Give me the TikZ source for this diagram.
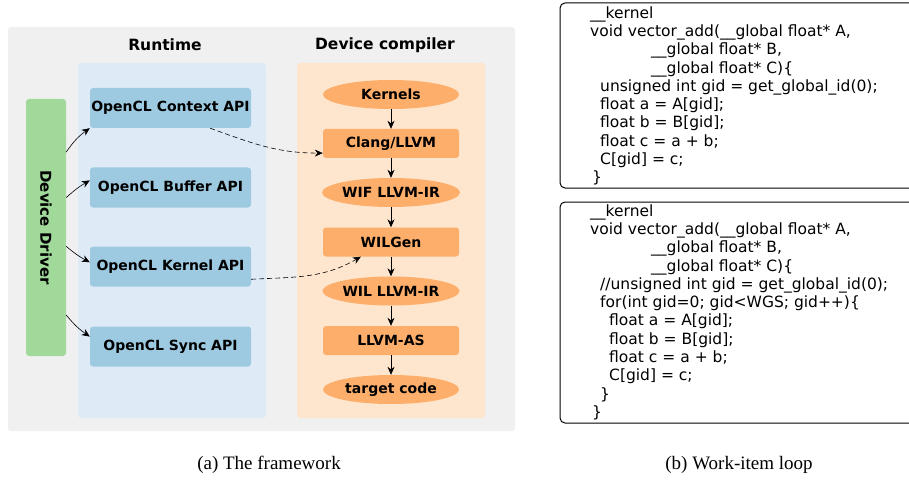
\documentclass[tikz,border=0pt]{standalone}
\usepackage{fontspec}
\setmainfont{Liberation Serif}
\newfontfamily\dejavu{DejaVu Sans}
\usetikzlibrary{arrows.meta,shapes.geometric}

\definecolor{framegray}{HTML}{F0F0F0}
\definecolor{rtpanel}{HTML}{DEEBF7}
\definecolor{dcpanel}{HTML}{FEE6CE}
\definecolor{apiblue}{HTML}{9ECAE1}
\definecolor{drvgreen}{HTML}{A1D99B}
\definecolor{stagecol}{HTML}{FDAE6B}

\newcommand\labelfont{\dejavu\bfseries\fontsize{14}{16}\selectfont}
\newcommand\codetxt{\dejavu\fontsize{15.5}{18.3}\selectfont}

\tikzset{
  panel/.style={fill=#1, rounded corners=3pt, inner sep=0pt},
  title/.style={font=\dejavu\bfseries\fontsize{15.5}{18}\selectfont},
  api/.style={fill=apiblue, rounded corners=3pt, minimum width=161pt, minimum height=40pt, inner sep=0pt, font=\labelfont},
  stage/.style={fill=stagecol, rounded corners=3pt, minimum width=136pt, minimum height=29pt, inner sep=0pt, font=\labelfont},
  ir/.style={ellipse, fill=stagecol, minimum width=136pt, minimum height=29pt, inner sep=0pt, font=\labelfont},
  flow/.style={->, line width=0.6pt},
  call/.style={->, line width=0.6pt, dash pattern=on 5pt off 3pt},
  codeframe/.style={draw, line width=1pt, rounded corners=5pt},
  code/.style={anchor=north west, align=left, inner sep=0pt, font=\codetxt},
  caption/.style={anchor=base, font=\fontsize{19}{22}\selectfont},
}

\begin{document}
\begin{tikzpicture}[x=1pt, y=-1pt, >={Stealth[length=8pt,width=7pt]}, line join=round]
\useasboundingbox (0,0) rectangle (909,481);
\clip (0,0) rectangle (909,481);

% framework: background panels
\node[panel=framegray, minimum width=507pt, minimum height=404pt] (frame) at (261.5,229) {};
\node[panel=rtpanel, minimum width=188pt, minimum height=355pt] (runtime) at (172,240.5) {};
\node[panel=dcpanel, minimum width=188pt, minimum height=355pt] (compiler) at (391,240.5) {};
\node[title] (rttitle) at (165,45) {Runtime};
\node[title] (dctitle) at (385,45) {Device compiler};

% driver bar
\node[panel=drvgreen, minimum width=40pt, minimum height=257pt, font=\dejavu\bfseries\fontsize{15}{18}\selectfont]
  (driver) at (46,227.5) {\rotatebox{-90}{Device Driver}};

% runtime APIs
\node[api] (context) at (170.5,108)   {OpenCL Context API};
\node[api] (buffer)  at (170.5,187.5) {OpenCL Buffer API};
\node[api] (kernel)  at (170.5,266.5) {OpenCL Kernel API};
\node[api] (sync)    at (170.5,346.5) {OpenCL Sync API};

% compiler chain
\node[ir]    (kernels) at (391,94.5)  {Kernels};
\node[stage] (clang)   at (391,143.5) {Clang/LLVM};
\node[ir]    (wif)     at (391,192.5) {WIF LLVM-IR};
\node[stage] (wilgen)  at (391,242)   {WILGen};
\node[ir]    (wil)     at (391,291)   {WIL LLVM-IR};
\node[stage] (llvmas)  at (391,340.5) {LLVM-AS};
\node[ir]    (target)  at (391,389.5) {target code};

\foreach \a/\b in {kernels/clang, clang/wif, wif/wilgen, wilgen/wil, wil/llvmas, llvmas/target}
  \draw[flow] (\a) -- (\b);

% driver -> APIs
\draw[flow] (driver.75) to[bend left=10] (context.south west);
\draw[flow] (driver.56) to[bend left=6] (buffer.175);
\draw[flow] (driver.-43) to[bend right=6] (kernel.177);
\draw[flow] (driver.-77) to[bend right=8] (sync.173);

% runtime -> compiler
\draw[call] (context.-27.5) to[out=-20, in=180] (clang.188);
\draw[call] (kernel.-9) to[out=3, in=-150] (wilgen.206);

% kernel source, plain version
\draw[codeframe] (560,3) rectangle (940,188);
\node[code] (naive) at (590,6.2) {%
\_\_kernel\\
void vector\_add(\_\_global float* A,\\
\hspace*{61pt}\_\_global float* B,\\
\hspace*{61pt}\_\_global float* C)\{\\
\hspace*{10pt}unsigned int gid = get\_global\_id(0);\\
\hspace*{10pt}float a = A[gid];\\
\hspace*{10pt}float b = B[gid];\\
\hspace*{10pt}float c = a + b;\\
\hspace*{10pt}C[gid] = c;\\
\hspace*{2pt}\}};

% kernel source, with work-item loop
\draw[codeframe] (560,202) rectangle (940,423);
\node[code] (looped) at (590,204.2) {%
\_\_kernel\\
void vector\_add(\_\_global float* A,\\
\hspace*{61pt}\_\_global float* B,\\
\hspace*{61pt}\_\_global float* C)\{\\
\hspace*{10pt}//unsigned int gid = get\_global\_id(0);\\
\hspace*{10pt}for(int gid=0; gid<WGS; gid++)\{\\
\hspace*{19pt}float a = A[gid];\\
\hspace*{19pt}float b = B[gid];\\
\hspace*{19pt}float c = a + b;\\
\hspace*{19pt}C[gid] = c;\\
\hspace*{10pt}\}\\
\hspace*{2pt}\}};

% sub-captions
\node[caption] (capa) at (269,469) {(a) The framework};
\node[caption] (capb) at (739,469) {(b) Work-item loop};
\end{tikzpicture}
\end{document}
